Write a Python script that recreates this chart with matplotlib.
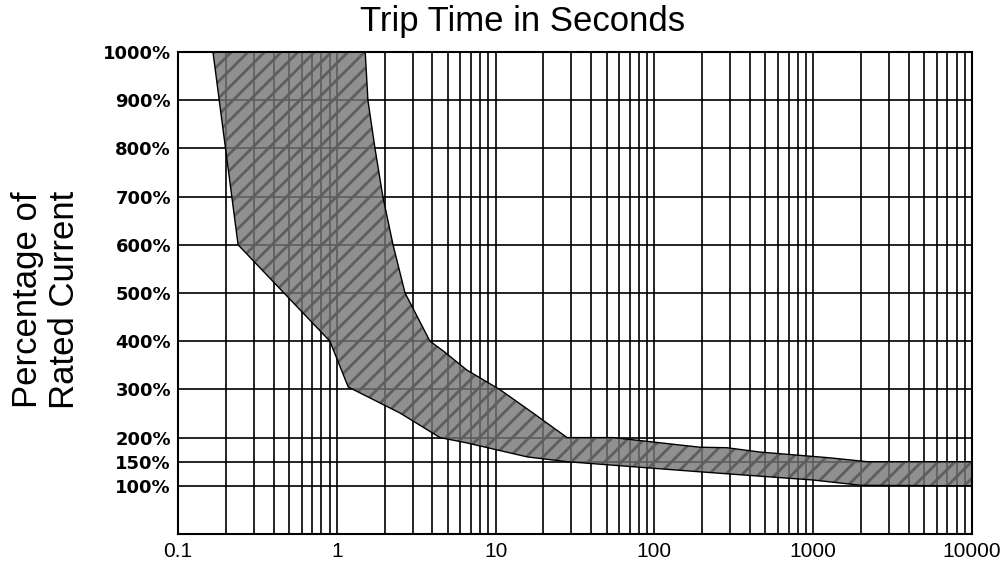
import numpy as np
import matplotlib
matplotlib.use('Agg')
import matplotlib.pyplot as plt
from matplotlib.ticker import FixedLocator, LogLocator, NullFormatter

# trip band, upper edge (slow trip) and lower edge (fast trip)
upper_t = [1.51, 1.57, 1.74, 1.95, 2.26, 2.69, 3.86, 4.67, 6.6, 10.7, 17.2, 28.2, 55, 194, 286, 462, 1276, 2184, 10000]
upper_pct = [1000, 900, 800, 700, 600, 500, 400, 380, 340, 299, 251, 200, 200, 180, 179, 170, 158, 150, 150]
lower_t = [0.166, 0.239, 0.905, 1.18, 2.5, 4.47, 6.6, 15.8, 28.2, 194, 1000, 2000, 10000]
lower_pct = [1000, 600, 400, 305, 251, 200, 189, 160, 150, 129, 112, 101, 100]

y_ticks = [100, 150, 200, 300, 400, 500, 600, 700, 800, 900, 1000]
y_labels = [f'{v}%' for v in y_ticks]
x_ticks = [0.1, 1, 10, 100, 1000, 10000]
x_labels = ['0.1', '1', '10', '100', '1000', '10000']

plt.rcParams['hatch.linewidth'] = 2.0

fig = plt.figure(figsize=(10.08, 5.67), dpi=100)
ax = fig.add_axes([178/1008, 1-534/567, (972-178)/1008, (534-52)/567])
ax.set_xscale('log')
ax.set_xlim(0.1, 10000)
ax.set_ylim(0, 1000)

# common time grid so both edges can be filled
tt = np.unique(np.concatenate([upper_t, lower_t]))
tt = tt[tt >= min(lower_t)]
up = np.interp(np.log10(tt), np.log10(upper_t), upper_pct, left=1000)
lo = np.interp(np.log10(tt), np.log10(lower_t), lower_pct)

ax.fill_between(tt, lo, up, facecolor='#747474', alpha=0.8, linewidth=0, zorder=3)
ax.fill_between(tt, lo, up, facecolor='none', edgecolor='#5e5e5e', hatch='//', linewidth=0, zorder=3)
ax.plot(upper_t, upper_pct, color='black', lw=1.0, zorder=4)
ax.plot(lower_t, lower_pct, color='black', lw=1.0, zorder=4)

ax.yaxis.set_major_locator(FixedLocator(y_ticks))
ax.set_yticklabels(y_labels, fontsize=13, fontweight='bold', family='DejaVu Sans')
ax.xaxis.set_major_locator(FixedLocator(x_ticks))
ax.set_xticklabels(x_labels, fontsize=15, family='Liberation Sans')
ax.xaxis.set_minor_locator(LogLocator(base=10, subs=np.arange(2, 10)))
ax.xaxis.set_minor_formatter(NullFormatter())
ax.tick_params(which='both', length=0)
ax.tick_params(axis='y', pad=5)
ax.tick_params(axis='x', pad=6)

ax.grid(True, which='major', color='black', lw=1.2, zorder=1)
ax.grid(True, which='minor', axis='x', color='black', lw=1.2, zorder=1)
ax.set_axisbelow(True)
for s in ax.spines.values():
    s.set_linewidth(1.5)
    s.set_zorder(5)

fig.text(523/1008, 1-22/567, 'Trip Time in Seconds', ha='center', va='center',
         fontsize=25, family='Liberation Sans')
fig.text(46/1008, 1-300/567, 'Percentage of\nRated Current', ha='center', va='center',
         rotation=90, fontsize=25, family='Liberation Sans', linespacing=1.15)

fig.savefig('out.png', dpi=100)
